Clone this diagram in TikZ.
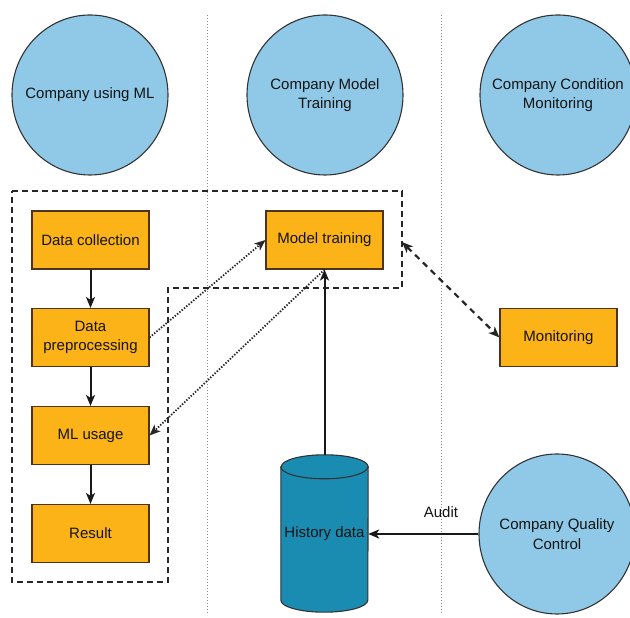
\documentclass[tikz,border=0pt]{standalone}
\usepackage{fontspec}
\setmainfont{Liberation Sans}
\usetikzlibrary{shapes.geometric,arrows.meta,calc,backgrounds}
\definecolor{orangebox}{HTML}{FBB317}
\definecolor{bluecirc}{HTML}{8FC9E7}
\definecolor{cylblue}{HTML}{1A8CB2}
\begin{document}
\begin{tikzpicture}[x=1pt,y=1pt,
  txt/.style={font=\fontsize{15}{19.5}\selectfont, text=black!92},
  circ/.style={ellipse, draw=black!80, line width=1.1pt, fill=bluecirc,
    minimum width=156pt, minimum height=160pt, inner xsep=-30pt, inner ysep=0pt, align=center, txt},
  box/.style={rectangle, draw=black!60!brown, line width=1.1pt, fill=orangebox,
    minimum width=117pt, minimum height=58pt, inner sep=0pt, align=center, txt},
  sep/.style={draw=gray!90, line width=0.8pt, dash pattern=on 1pt off 2pt},
  region/.style={draw=black!85, line width=1.8pt, dash pattern=on 6pt off 4pt},
  flow/.style={-{Stealth[length=11pt,width=9pt,inset=3pt]}, line width=2pt, draw=black!90},
  dotarrow/.style={-{Stealth[length=11pt,width=9pt,inset=3pt]}, line width=1.8pt,
    dash pattern=on 1.4pt off 1.6pt, draw=black!85},
  dasharrow/.style={{Stealth[length=11pt,width=9pt,inset=3pt]}-{Stealth[length=11pt,width=9pt,inset=3pt]},
    line width=2.2pt, dash pattern=on 6pt off 5pt, draw=black!85}
]
\clip (0,0) rectangle (630,618);
\useasboundingbox (0,0) rectangle (630,618);

% lane separators
\draw[sep] (207,603) -- (207,3);
\draw[sep] (441,603) -- (441,3);

% lane heads
\node[circ] (c1) at (90,523) {Company using ML};
\node[circ] (c2) at (325,523) {Company Model\\Training};
\node[circ] (c3) at (558,523) {Company Condition\\Monitoring};
\node[circ] (c4) at (557,84) {Company Quality\\Control};

% process boxes
\node[box] (dc) at (90.5,378) {Data collection};
\node[box] (dp) at (90.5,280.5) {Data\\preprocessing};
\node[box] (ml) at (90.5,182.5) {ML usage};
\node[box] (res) at (90.5,84.5) {Result};
\node[box] (mt) at (324.5,378) {Model training};
\node[box] (mon) at (558.5,280.5) {Monitoring};

% history data cylinder
\node[txt, minimum width=87pt, minimum height=157pt, inner sep=0pt] (hist) at (324.5,84.5) {History data};
\begin{scope}[on background layer]
\path[fill=cylblue, draw=black!80, line width=1.1pt]
  ([yshift=-12pt]hist.north west) -- ([yshift=12pt]hist.south west)
  arc[start angle=180, end angle=360, x radius=43.5pt, y radius=12pt]
  -- ([yshift=-12pt]hist.north east)
  arc[start angle=0, end angle=180, x radius=43.5pt, y radius=12pt] -- cycle;
\draw[black!80, line width=1.1pt] ([yshift=-12pt]hist.north west)
  arc[start angle=180, end angle=360, x radius=43.5pt, y radius=12pt];
\end{scope}

% dashed group region
\draw[region] (12,427) -- (402,427) -- (402,330) -- (168,330) -- (168,36) -- (12,36) -- cycle;
\coordinate (gr) at (402,376);

% connectors
\draw[flow] (dc) -- (dp);
\draw[flow] (dp) -- (ml);
\draw[flow] (ml) -- (res);
\draw[flow] (hist.north) -- (mt.south);
\draw[dotarrow] (dp.east) -- (mt.west);
\draw[dotarrow] (mt.south) -- (ml.east);
\draw[dasharrow] (gr) -- (mon.west);
\draw[flow] (c4.west) -- (c4.west -| hist.east)
  node[pos=0.34, yshift=22pt, txt] (audit) {Audit};
\end{tikzpicture}
\end{document}
